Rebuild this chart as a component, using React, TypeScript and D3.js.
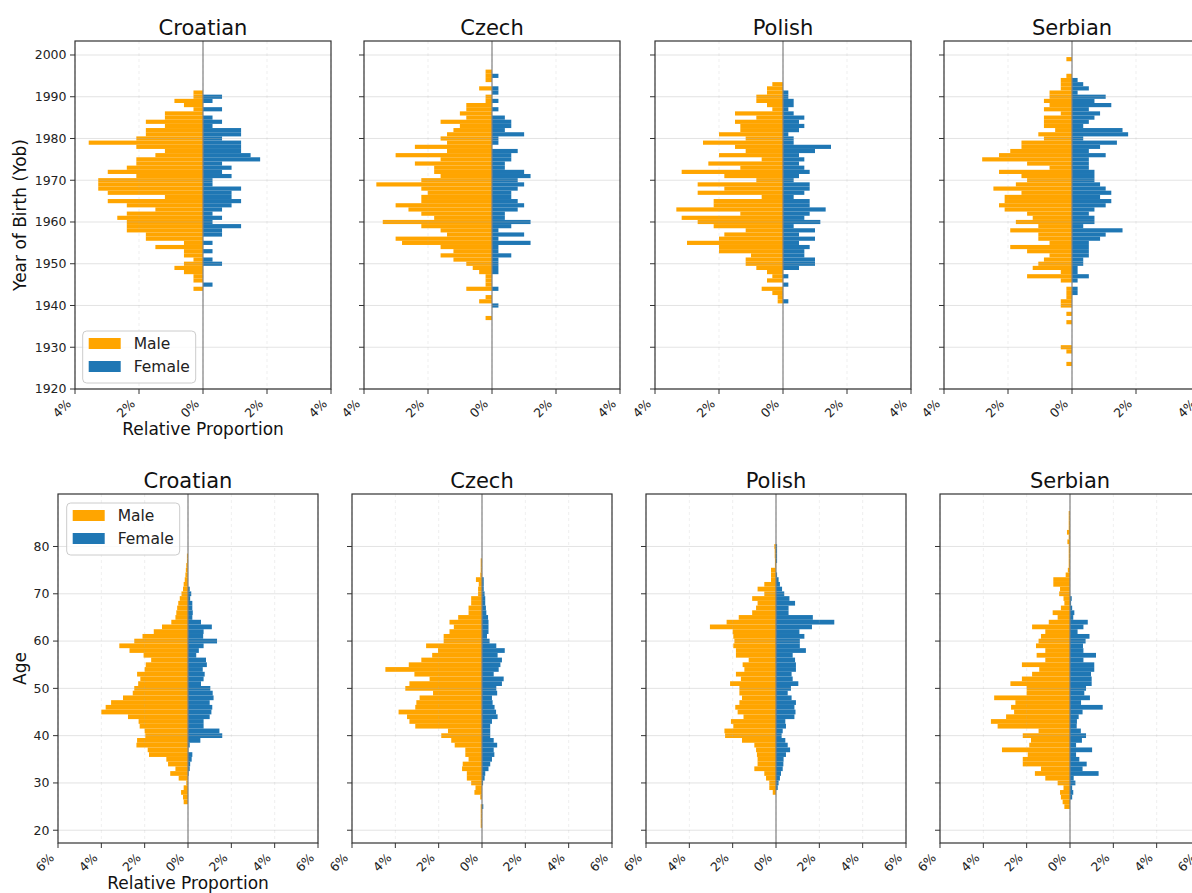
import React from 'react';
import * as d3 from 'd3';

// Year of birth: respondents per year, youngest year first (one bar per year)
const croatianYobStart = 1991;
const croatianYobN = 336;
const croatianYobMale = [1, 1, 3, 2, 1, 4, 4, 6, 4, 6, 6, 7, 12, 7, 4, 5, 7, 7, 8, 10, 7, 11, 11, 11, 10, 4, 10, 8, 5, 8, 9, 8, 8, 8, 6, 6, 2, 5, 2, 2, 1, 2, 3, 2, 1, 1, 0, 1];
const croatianYobFemale = [0, 2, 1, 0, 2, 0, 1, 2, 1, 4, 4, 2, 4, 4, 4, 5, 6, 2, 3, 2, 3, 1, 1, 4, 3, 3, 4, 3, 2, 1, 2, 1, 4, 2, 2, 0, 1, 0, 1, 0, 1, 2, 0, 0, 0, 0, 1, 0];

const czechYobStart = 1996;
const czechYobN = 498;
const czechYobMale = [1, 1, 1, 0, 2, 0, 1, 1, 4, 4, 5, 4, 8, 5, 6, 7, 8, 7, 12, 7, 15, 8, 12, 9, 9, 8, 11, 18, 11, 10, 11, 11, 15, 13, 11, 9, 17, 11, 8, 7, 15, 14, 8, 6, 8, 6, 4, 3, 2, 1, 1, 1, 4, 0, 1, 2, 0, 0, 0, 1];
const czechYobFemale = [0, 1, 0, 0, 1, 1, 0, 1, 0, 1, 0, 2, 3, 3, 2, 5, 1, 1, 0, 4, 3, 3, 2, 2, 5, 6, 4, 5, 4, 3, 3, 4, 5, 4, 2, 2, 6, 3, 1, 5, 1, 6, 1, 1, 3, 1, 1, 1, 1, 0, 0, 0, 1, 0, 0, 0, 1, 0, 0, 0];

const polishYobStart = 1993;
const polishYobN = 600;
const polishYobMale = [2, 3, 3, 5, 5, 3, 2, 9, 5, 9, 8, 8, 12, 7, 15, 9, 7, 12, 4, 14, 8, 19, 11, 5, 16, 11, 16, 4, 13, 13, 20, 8, 19, 16, 13, 7, 11, 12, 18, 12, 12, 6, 7, 7, 5, 3, 2, 3, 0, 4, 2, 1, 1, 0];
const polishYobFemale = [0, 0, 1, 1, 2, 2, 1, 2, 4, 3, 4, 3, 1, 2, 2, 9, 6, 3, 4, 3, 4, 5, 3, 2, 5, 5, 4, 2, 5, 5, 8, 5, 4, 7, 2, 6, 3, 6, 3, 5, 4, 4, 6, 6, 3, 0, 1, 0, 1, 0, 0, 0, 1, 0];

const serbianYobStart = 1999;
const serbianYobN = 570;
const serbianYobMale = [1, 0, 0, 0, 1, 2, 2, 2, 4, 4, 5, 4, 5, 2, 5, 5, 5, 3, 6, 5, 9, 9, 11, 13, 16, 8, 4, 13, 9, 8, 10, 14, 9, 12, 12, 13, 12, 8, 7, 10, 6, 11, 6, 6, 4, 11, 8, 4, 5, 6, 7, 2, 8, 2, 0, 1, 1, 1, 2, 2, 0, 1, 0, 1, 0, 0, 0, 0, 0, 2, 1, 0, 0, 1];
const serbianYobFemale = [0, 0, 0, 0, 0, 1, 2, 3, 1, 6, 4, 7, 3, 5, 4, 3, 2, 9, 10, 2, 8, 5, 3, 6, 3, 3, 3, 4, 4, 4, 5, 6, 7, 5, 7, 6, 4, 3, 4, 4, 2, 9, 6, 5, 3, 3, 3, 3, 2, 2, 1, 1, 3, 1, 0, 1, 1, 0, 0, 0, 0, 0, 0, 0, 0, 0, 0, 0, 0, 0, 0, 0, 0, 0];

// Age: percent of respondents per age, oldest first
const croatianAgeStart = 78;
const croatianAgeMale = [0.05, 0.05, 0.08, 0.1, 0.12, 0.15, 0.2, 0.23, 0.3, 0.38, 0.45, 0.5, 0.54, 0.58, 0.77, 1.2, 1.58, 2.1, 2.48, 3.17, 2.7, 2.05, 1.7, 1.95, 2.0, 2.35, 2.2, 2.3, 2.48, 2.55, 3.0, 3.55, 3.8, 4.0, 2.77, 2.28, 2.23, 2.0, 1.97, 2.35, 2.38, 1.86, 1.8, 1.0, 0.92, 0.58, 0.82, 0.43, 0.08, 0.2, 0.32, 0.23, 0.2];
const croatianAgeFemale = [0, 0, 0, 0, 0, 0, 0, 0.08, 0.15, 0.1, 0.2, 0.2, 0.22, 0.2, 0.6, 1.1, 0.72, 0.7, 1.34, 0.72, 0.5, 0.38, 0.83, 0.87, 0.68, 0.77, 0.72, 0.6, 1.03, 1.14, 1.18, 1.0, 1.12, 1.08, 1.0, 0.72, 0.72, 1.45, 1.58, 0.57, 0.08, 0.02, 0.2, 0.17, 0.1, 0.08, 0.03, 0, 0, 0, 0, 0, 0];

const czechAgeStart = 77;
const czechAgeMale = [0.06, 0.06, 0.06, 0.08, 0.28, 0.15, 0.18, 0.18, 0.5, 0.5, 0.62, 0.62, 1.1, 1.5, 1.3, 1.5, 1.77, 1.77, 2.58, 2.03, 2.3, 2.8, 3.38, 4.46, 3.12, 2.42, 3.35, 3.54, 2.26, 2.88, 3.03, 3.08, 3.85, 3.46, 3.35, 3.08, 1.57, 1.88, 1.42, 1.26, 0.77, 0.77, 0.62, 0.89, 0.92, 0.7, 0.7, 0.5, 0.3, 0.35, 0.08, 0, 0.06, 0.06, 0.06, 0.06, 0.06];
const czechAgeFemale = [0, 0, 0, 0, 0.08, 0.08, 0.08, 0.12, 0.15, 0.15, 0.18, 0.2, 0.28, 0.3, 0.3, 0.3, 0.23, 0.35, 0.66, 1.05, 0.72, 0.92, 0.85, 0.77, 0.54, 1.0, 0.92, 0.66, 0.7, 0.46, 0.49, 0.58, 0.65, 0.72, 0.46, 0.38, 0.38, 0.38, 0.54, 0.7, 0.54, 0.57, 0.46, 0.38, 0.3, 0.15, 0.12, 0.05, 0, 0, 0, 0, 0.06, 0, 0, 0, 0];

const polishAgeStart = 80;
const polishAgeMale = [0.08, 0.06, 0.06, 0.05, 0.05, 0.23, 0.23, 0.23, 0.54, 0.85, 0.54, 1.1, 0.85, 0.92, 1.1, 1.72, 2.28, 3.05, 2.0, 1.97, 1.92, 1.97, 1.85, 1.85, 1.26, 1.54, 1.46, 1.85, 1.62, 2.12, 1.69, 1.69, 1.57, 1.69, 1.88, 1.77, 1.5, 2.08, 1.97, 2.38, 2.35, 1.57, 1.0, 0.92, 0.88, 0.85, 0.85, 1.0, 0.54, 0.46, 0.31, 0.31, 0.15];
const polishAgeFemale = [0.05, 0.05, 0.05, 0.05, 0, 0, 0.05, 0.12, 0.18, 0.28, 0.38, 0.62, 0.88, 0.58, 0.58, 1.7, 2.69, 1.66, 1.08, 1.31, 1.1, 1.1, 1.38, 0.77, 0.88, 0.92, 0.92, 0.72, 0.77, 1.03, 0.69, 0.54, 0.72, 0.92, 0.85, 0.9, 0.85, 0.43, 0.46, 0.31, 0.26, 0.43, 0.54, 0.65, 0.46, 0.35, 0.34, 0.31, 0.23, 0.18, 0.12, 0.08, 0];

const serbianAgeStart = 87;
const serbianAgeMale = [0.06, 0.06, 0.06, 0.06, 0.14, 0.06, 0.12, 0.06, 0.06, 0.06, 0.06, 0.06, 0.1, 0.2, 0.77, 0.77, 0.46, 0.5, 0.3, 0.26, 0.42, 0.8, 0.57, 0.98, 1.75, 1.14, 1.34, 1.45, 1.57, 1.14, 1.54, 1.14, 2.22, 1.42, 1.75, 2.22, 2.75, 2.0, 2.0, 3.5, 2.52, 2.72, 2.58, 2.95, 3.65, 3.34, 1.45, 2.18, 1.8, 1.88, 3.14, 1.95, 2.18, 2.18, 1.34, 1.62, 1.14, 0.57, 0.3, 0.46, 0.42, 0.34, 0.26];
const serbianAgeFemale = [0, 0, 0, 0, 0, 0, 0, 0, 0, 0, 0, 0, 0, 0, 0, 0, 0, 0, 0.08, 0.05, 0.1, 0.2, 0.15, 0.82, 0.62, 0.35, 0.9, 0.72, 0.6, 0.62, 1.2, 0.62, 1.12, 1.12, 0.97, 1.0, 1.0, 0.74, 0.66, 0.92, 0.51, 1.51, 0.58, 0.4, 0.32, 0.31, 0.5, 0.74, 0.55, 0.28, 1.02, 0.28, 0.43, 0.77, 0.58, 1.32, 0.17, 0.25, 0.1, 0.15, 0.1, 0, 0];

const languages = ['Croatian', 'Czech', 'Polish', 'Serbian'];
const yobTicks = [1920, 1930, 1940, 1950, 1960, 1970, 1980, 1990, 2000];
const ageTicks = [20, 30, 40, 50, 60, 70, 80];
const yobPctTicks = [-4, -2, 0, 2, 4];
const agePctTicks = [-6, -4, -2, 0, 2, 4, 6];
const sexes = ['Male', 'Female'];

const MALE = '#ffa500';
const FEMALE = '#1f77b4';
const FONT = 'DejaVu Sans, sans-serif';

type Row = { key: number; male: number; female: number };

const toRows = (start: number, male: number[], female: number[], scale: number): Row[] =>
  male.map((m, i) => ({ key: start - i, male: m * scale, female: female[i] * scale }));

const yobRows = [
  toRows(croatianYobStart, croatianYobMale, croatianYobFemale, 100 / croatianYobN),
  toRows(czechYobStart, czechYobMale, czechYobFemale, 100 / czechYobN),
  toRows(polishYobStart, polishYobMale, polishYobFemale, 100 / polishYobN),
  toRows(serbianYobStart, serbianYobMale, serbianYobFemale, 100 / serbianYobN),
];
const ageRows = [
  toRows(croatianAgeStart, croatianAgeMale, croatianAgeFemale, 1),
  toRows(czechAgeStart, czechAgeMale, czechAgeFemale, 1),
  toRows(polishAgeStart, polishAgeMale, polishAgeFemale, 1),
  toRows(serbianAgeStart, serbianAgeMale, serbianAgeFemale, 1),
];

type PanelProps = {
  left: number;
  top: number;
  width: number;
  height: number;
  xMax: number;
  xTicks: number[];
  yDomain: [number, number];
  yTicks: number[];
  rows: Row[];
  title: string;
  showYLabels: boolean;
  legend: { x: number; y: number } | null;
};

function Legend({ x, y }: { x: number; y: number }) {
  return (
    <g>
      <rect x={x} y={y} width={113} height={52} rx={4} fill="#fff" fillOpacity={0.8} stroke="#cccccc" />
      {sexes.map((s, i) => (
        <g key={s}>
          <rect x={x + 6} y={y + 7 + i * 23} width={32} height={11} fill={i === 0 ? MALE : FEMALE} />
          <text x={x + 51} y={y + 18 + i * 23} fontSize={15.5} fill="#222">{s}</text>
        </g>
      ))}
    </g>
  );
}

function Panel(p: PanelProps) {
  const x = d3.scaleLinear().domain([-p.xMax, p.xMax]).range([p.left, p.left + p.width]);
  const y = d3.scaleLinear().domain(p.yDomain).range([p.top + p.height, p.top]);
  const bottom = p.top + p.height;
  const right = p.left + p.width;
  const fmt = (d: number) => `${Math.abs(d)}%`;

  return (
    <g fontFamily={FONT}>
      <text x={(p.left + right) / 2} y={p.top - 6} textAnchor="middle" fontSize={21} fill="#111">{p.title}</text>

      {/* bars */}
      {p.rows.map(r => (
        <g key={r.key}>
          {r.male > 0 && (
            <rect x={x(-r.male)} y={y(r.key + 0.5)} width={x(0) - x(-r.male)} height={y(r.key - 0.5) - y(r.key + 0.5)} fill={MALE} />
          )}
          {r.female > 0 && (
            <rect x={x(0)} y={y(r.key + 0.5)} width={x(r.female) - x(0)} height={y(r.key - 0.5) - y(r.key + 0.5)} fill={FEMALE} />
          )}
        </g>
      ))}

      {/* grid sits above the bars, as matplotlib does */}
      {p.yTicks.map(t => (
        <line key={'gy' + t} x1={p.left} x2={right} y1={y(t)} y2={y(t)} stroke="#b0b0b0" strokeOpacity={0.35} />
      ))}
      {p.xTicks.map(t => (
        <line key={'gx' + t} x1={x(t)} x2={x(t)} y1={p.top} y2={bottom} stroke="#b0b0b0" strokeOpacity={0.2} strokeDasharray="3,3" />
      ))}

      <line x1={x(0)} x2={x(0)} y1={p.top} y2={bottom} stroke="#808080" strokeWidth={1.2} />

      <rect x={p.left} y={p.top} width={p.width} height={p.height} fill="none" stroke="#333" strokeWidth={1.2} />

      {p.yTicks.map(t => (
        <g key={'ty' + t}>
          <line x1={p.left - 5} x2={p.left} y1={y(t)} y2={y(t)} stroke="#333" />
          {p.showYLabels && (
            <text x={p.left - 8.5} y={y(t)} dy="0.35em" textAnchor="end" fontSize={12.5} fill="#222">{t}</text>
          )}
        </g>
      ))}
      {p.xTicks.map(t => (
        <g key={'tx' + t}>
          <line x1={x(t)} x2={x(t)} y1={bottom} y2={bottom + 5} stroke="#333" />
          <text transform={`translate(${x(t) - 3},${bottom + 15.5}) rotate(-45)`} textAnchor="end" fontSize={12.5} fill="#222">{fmt(t)}</text>
        </g>
      ))}

      {p.legend && <Legend x={p.legend.x} y={p.legend.y} />}
    </g>
  );
}

const topLefts = [75, 364, 655, 944];
const bottomLefts = [58, 352, 646, 940];

export default function App() {
  return (
    <div style={{ position: 'absolute', left: 0, top: 0, width: 1192, height: 893, overflow: 'hidden', background: '#fff' }}>
      <svg width={1192} height={893} style={{ display: 'block' }}>
        {languages.map((lang, i) => (
          <Panel
            key={'yob' + lang}
            left={topLefts[i]}
            top={41}
            width={256}
            height={348}
            xMax={4}
            xTicks={yobPctTicks}
            yDomain={[1920, 2003.35]}
            yTicks={yobTicks}
            rows={yobRows[i]}
            title={lang}
            showYLabels={i === 0}
            legend={i === 0 ? { x: 82.7, y: 331 } : null}
          />
        ))}
        {languages.map((lang, i) => (
          <Panel
            key={'age' + lang}
            left={bottomLefts[i]}
            top={494}
            width={260}
            height={349}
            xMax={6}
            xTicks={agePctTicks}
            yDomain={[17.3, 91.1]}
            yTicks={ageTicks}
            rows={ageRows[i]}
            title={lang}
            showYLabels={i === 0}
            legend={i === 0 ? { x: 66.7, y: 503 } : null}
          />
        ))}
        <g fontFamily={FONT} fontSize={17} fill="#111">
          <text x={203} y={435} textAnchor="middle">Relative Proportion</text>
          <text x={188} y={889} textAnchor="middle">Relative Proportion</text>
          <text transform="translate(26,215) rotate(-90)" textAnchor="middle">Year of Birth (Yob)</text>
          <text transform="translate(26,668.5) rotate(-90)" textAnchor="middle">Age</text>
        </g>
      </svg>
    </div>
  );
}
